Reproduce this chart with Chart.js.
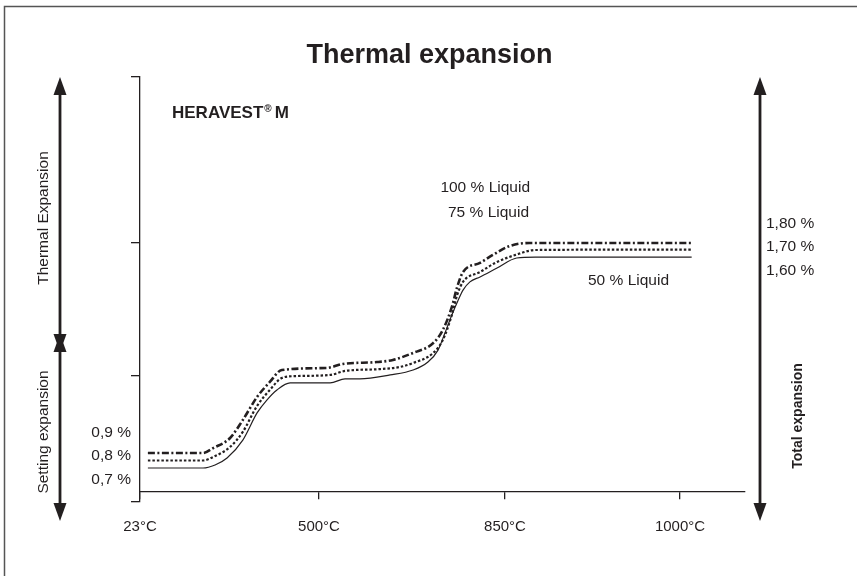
<!DOCTYPE html>
<html><head><meta charset="utf-8">
<script src="https://cdn.jsdelivr.net/npm/chart.js@4.4.1/dist/chart.umd.min.js"></script>
<style>html,body{margin:0;padding:0;background:#fff;}#wrap{width:857px;height:576px;position:relative;}</style>
</head><body><div id="wrap"><canvas id="c" width="857" height="576"></canvas></div>
<script>
// ---- data (schematic curves) ----
const seriesNames = ['100 % Liquid', '75 % Liquid', '50 % Liquid'];
const temps100 = [44,191,218,263,297,335,369,401,515,545,609,639,677,715,733,750,760,771,803,827,854,871,1010];
const exp100   = [0.764,0.764,0.785,0.828,0.905,1.003,1.067,1.118,1.127,1.144,1.152,1.161,1.191,1.233,1.289,1.387,1.472,1.536,1.575,1.609,1.647,1.660,1.660];
const temps75  = [44,191,218,263,297,335,369,401,436,521,549,615,652,677,715,733,750,760,771,803,835,859,876,1010];
const exp75    = [0.732,0.732,0.747,0.790,0.854,0.965,1.033,1.084,1.092,1.097,1.114,1.122,1.131,1.148,1.191,1.246,1.353,1.438,1.494,1.536,1.579,1.609,1.630,1.632];
const temps50  = [44,191,223,255,297,335,361,388,423,521,549,577,634,677,705,724,737,750,762,771,784,803,835,860,876,1010];
const exp50    = [0.700,0.700,0.713,0.743,0.819,0.935,0.990,1.033,1.063,1.063,1.080,1.080,1.097,1.118,1.152,1.203,1.276,1.353,1.417,1.459,1.494,1.515,1.553,1.596,1.600,1.600];
const xTickTemps  = [23, 500, 850, 1000];
const xTickLabels = ['23\u00B0C', '500\u00B0C', '850\u00B0C', '1000\u00B0C'];
const startLabels = ['0,9 %', '0,8 %', '0,7 %'];
const endLabels   = ['1,80 %', '1,70 %', '1,60 %'];
const yGuideTicks = [0.555, 1.0925, 1.66, 2.368];

// ---- non-linear temperature axis: tick temps sit at these axis positions ----
const anchorPos = [0, 0.9944, 2.0278, 3.0];
function tempToPos(t) {
  let i = 0;
  while (i < xTickTemps.length - 2 && t > xTickTemps[i + 1]) i++;
  const t0 = xTickTemps[i], t1 = xTickTemps[i + 1], p0 = anchorPos[i], p1 = anchorPos[i + 1];
  return p0 + (t - t0) * (p1 - p0) / (t1 - t0);
}
const toPts = (ts, vs) => ts.map((t, i) => ({ x: tempToPos(t), y: vs[i] }));

const INK = '#231f20';
const FONT = '"Liberation Sans", Arial, Helvetica, sans-serif';

function arrow(ctx, x, y1, y2) {
  const hw = 6.5, hl = 18;
  ctx.lineWidth = 2.8;
  ctx.beginPath(); ctx.moveTo(x, y1 + hl - 2); ctx.lineTo(x, y2 - hl + 2); ctx.stroke();
  ctx.beginPath(); ctx.moveTo(x, y1); ctx.lineTo(x - hw, y1 + hl); ctx.lineTo(x + hw, y1 + hl); ctx.closePath(); ctx.fill();
  ctx.beginPath(); ctx.moveTo(x, y2); ctx.lineTo(x - hw, y2 - hl); ctx.lineTo(x + hw, y2 - hl); ctx.closePath(); ctx.fill();
}
function vtext(ctx, txt, x, y, font) {
  ctx.save(); ctx.translate(x, y); ctx.rotate(-Math.PI / 2);
  ctx.font = font; ctx.textAlign = 'center'; ctx.textBaseline = 'middle';
  ctx.fillText(txt, 0, 0); ctx.restore();
}

const annot = {
  id: 'annot',
  afterDraw(chart) {
    const ctx = chart.ctx;
    ctx.save();
    ctx.fillStyle = INK; ctx.strokeStyle = INK;
    // frame
    ctx.lineWidth = 1.5; ctx.strokeStyle = '#555';
    ctx.beginPath(); ctx.moveTo(4.5, 576); ctx.lineTo(4.5, 6.5); ctx.lineTo(857, 6.5); ctx.stroke();
    ctx.strokeStyle = INK;
    // title
    ctx.font = 'bold 27px ' + FONT; ctx.textAlign = 'center'; ctx.textBaseline = 'alphabetic';
    ctx.fillText('Thermal expansion', 429.5, 63);
    // product name
    ctx.textAlign = 'left';
    ctx.font = 'bold 17px ' + FONT;
    let x = 172; ctx.fillText('HERAVEST', x, 118); x += ctx.measureText('HERAVEST').width + 1;
    ctx.font = 'bold 10px ' + FONT; ctx.fillText('\u00AE', x, 112); x += ctx.measureText('\u00AE').width + 3;
    ctx.font = 'bold 17px ' + FONT; ctx.fillText('M', x, 118);
    // series labels
    ctx.font = '15.5px ' + FONT;
    ctx.textAlign = 'right';
    ctx.fillText(seriesNames[0], 530, 192);
    ctx.fillText(seriesNames[1], 529, 216.5);
    ctx.textAlign = 'left';
    ctx.fillText(seriesNames[2], 588, 285);
    // start / end values
    ctx.textAlign = 'right';
    startLabels.forEach((s, i) => ctx.fillText(s, 131, 436.5 + i * 23.5));
    ctx.textAlign = 'left';
    endLabels.forEach((s, i) => ctx.fillText(s, 766, 227.5 + i * 23.5));
    // arrows
    arrow(ctx, 60, 77, 352);
    arrow(ctx, 60, 334, 521);
    arrow(ctx, 760, 77, 521);
    // rotated captions
    vtext(ctx, 'Thermal Expansion', 44, 218, '15.5px ' + FONT);
    vtext(ctx, 'Setting expansion', 44, 432, '15.5px ' + FONT);
    vtext(ctx, 'Total expansion', 798, 416, 'bold 14px ' + FONT);
    ctx.restore();
  }
};

new Chart(document.getElementById('c'), {
  type: 'line',
  data: {
    datasets: [
      { label: seriesNames[0], data: toPts(temps100, exp100), borderColor: INK, borderWidth: 2.6, borderDash: [7, 2.5, 2, 2.5] },
      { label: seriesNames[1], data: toPts(temps75, exp75), borderColor: INK, borderWidth: 2.2, borderDash: [2.5, 2] },
      { label: seriesNames[2], data: toPts(temps50, exp50), borderColor: INK, borderWidth: 1.2 }
    ]
  },
  options: {
    responsive: false, animation: false,
    elements: { point: { radius: 0 }, line: { cubicInterpolationMode: 'monotone', fill: false } },
    layout: { padding: { left: 131, right: 112, top: 77, bottom: 74 } },
    plugins: { legend: { display: false }, tooltip: { enabled: false }, title: { display: false } },
    scales: {
      x: {
        type: 'linear', position: { y: 0.598 }, min: 0, max: 3.3611,
        afterFit(s) { s.height = 0; },
        afterBuildTicks(s) { s.ticks = anchorPos.map(v => ({ value: v })); },
        ticks: { callback: (v, i) => xTickLabels[i], font: { size: 15, family: FONT }, color: INK, padding: 19, maxRotation: 0, autoSkip: false },
        grid: { drawOnChartArea: false, tickLength: 7, color: INK, lineWidth: 1.3 },
        border: { color: INK, width: 1.3 }
      },
      y: {
        type: 'linear', min: yGuideTicks[0], max: yGuideTicks[3],
        afterBuildTicks(s) { s.ticks = yGuideTicks.map(v => ({ value: v })); },
        ticks: { display: false },
        grid: { drawOnChartArea: false, tickLength: 9, color: INK, lineWidth: 1.3 },
        border: { color: INK, width: 1.3 }
      }
    }
  },
  plugins: [annot]
});
</script></body></html>
